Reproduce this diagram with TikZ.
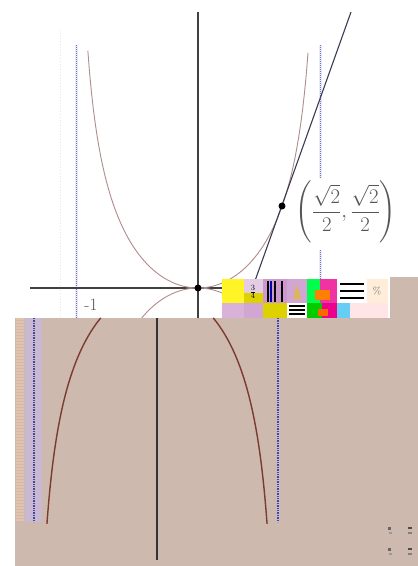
\documentclass[tikz,border=0pt]{standalone}
\usepackage{amsmath}
\definecolor{tanbg}{HTML}{CDB9AE}
\definecolor{curvelight}{HTML}{B08C8C}
\definecolor{curvedark}{HTML}{7B3B2F}
\definecolor{bluel}{HTML}{7474C4}
\definecolor{blued}{HTML}{45459A}
\definecolor{axisc}{HTML}{404040}
\definecolor{labc}{HTML}{555555}
\definecolor{lavstripe}{HTML}{C8B8D2}
\definecolor{beigestripe}{HTML}{E2C2A8}
\tikzset{
  axisline/.style={draw=axisc,line width=1.1pt},
  curvetop/.style={draw=curvelight,line width=0.9pt},
  curvebot/.style={draw=curvedark,line width=1.4pt},
  asymtop/.style={draw=bluel,line width=1pt,densely dotted},
  asymhalo/.style={draw=bluel!15,line width=3pt},
  asymbot/.style={draw=blued,line width=1.4pt,densely dotted},
  dotpt/.style={circle,fill=black,inner sep=0pt,minimum size=7pt},
  tangentl/.style={draw=axisc!90!blue,line width=1.1pt},
}
% f(u) = u^2/sqrt(1-u^2), x unit 122, y unit 125
\newcommand{\fx}[1]{(#1)*(#1)/sqrt(1-(#1)*(#1))}
\begin{document}
\begin{tikzpicture}[x=1pt,y=-1pt]
\useasboundingbox (0,0) rectangle (418,566);
\fill[white] (0,0) rectangle (418,566);
% faint grid remnants
\draw[yellow!40!gray!30,line width=0.8pt,dotted] (60,30) -- (60,318);
% tan lower panel
\fill[tanbg] (15,318) rectangle (418,566);
\fill[tanbg] (390,277) rectangle (418,318);
\fill[lavstripe] (25,318) rectangle (42,522);
\draw[beigestripe,line width=8pt,dash pattern=on 1.5pt off 1.5pt] (20,318) -- (20,522);
% top panel asymptotes
\draw[asymhalo] (76,45) -- (76,318);
\draw[asymtop] (76,45) -- (76,318);
\draw[asymhalo] (320,45) -- (320,178) (320,250) -- (320,280);
\draw[asymtop] (320,45) -- (320,178) (320,250) -- (320,280);
% top axes
\draw[axisline] (198,12) -- (198,318);
\draw[axisline] (30,288) -- (250,288);
% top curves
\draw[curvetop] plot[domain=-0.903:0.903,samples=120] ({198+122*\x},{288-125*\fx{\x}});
\draw[curvetop] plot[domain=-0.461:0.461,samples=50] ({198+122*\x},{288+125*\fx{\x}});
% tangent line
\coordinate (tA) at (251,292);
\coordinate (tB) at (351,12);
\draw[tangentl] (tA) -- (tB);
% points
\node[dotpt] (O) at (198,288) {};
\node[dotpt] (P) at (282,206) {};
\node[text=labc,font=\fontsize{20}{24}\selectfont,inner sep=0pt] (Plab) at (346,212)
  {$\left(\dfrac{\sqrt{2}}{2},\dfrac{\sqrt{2}}{2}\right)$};
\node[text=labc,font=\fontsize{17}{19}\selectfont,inner sep=0pt] (m1) at (91,305) {$\text{-}1$};
% garbled strip
\fill[yellow!85!white] (222,279) rectangle (244,303);
\fill[violet!30] (222,303) rectangle (244,318);
\fill[violet!20] (244,279) rectangle (263,293);
\fill[yellow!70!olive] (244,293) rectangle (263,303);
\fill[violet!35] (244,303) rectangle (263,318);
\node[text=black,font=\fontsize{11}{12}\selectfont\bfseries,inner sep=0pt] (g1) at (253,292) {$\frac{3}{4}$};
\fill[violet!40] (263,279) rectangle (287,303);
\draw[black,line width=2pt] (268,281) -- (268,302) (275,281) -- (275,302) (282,281) -- (282,302);
\draw[blue!70!black,line width=1.5pt] (271,281) -- (271,302);
\fill[yellow!70!olive] (263,303) rectangle (287,318);
\fill[violet!35] (287,279) rectangle (307,303);
\fill[olive!50!orange!60] (293,299) -- (297,284) -- (301,299) -- cycle;
\fill[white] (287,303) rectangle (307,318);
\draw[black,line width=1.5pt] (289,306) -- (305,306) (289,310) -- (305,310) (289,314) -- (305,314);
\fill[green!70!cyan] (307,279) rectangle (320,303);
\fill[magenta!80] (320,279) rectangle (337,303);
\fill[orange] (315,290) rectangle (330,300);
\fill[green!80!black] (307,303) rectangle (322,318);
\fill[magenta] (322,303) rectangle (337,318);
\fill[orange!80!red] (318,309) rectangle (328,316);
\fill[cyan!60] (337,303) rectangle (350,318);
\fill[white] (337,279) rectangle (367,303);
\draw[black,line width=2pt] (340,284) -- (364,284) (340,291) -- (364,291) (340,298) -- (364,298);
\fill[pink!40!white] (350,303) rectangle (388,318);
\fill[orange!15!white] (367,279) rectangle (388,303);
\node[text=black!60,font=\fontsize{10}{11}\selectfont,inner sep=0pt] (g2) at (377,291) {$\%$};
% bottom panel
\draw[asymbot] (34,318) -- (34,522);
\draw[asymhalo,draw=lavstripe] (278,318) -- (278,522);
\draw[asymbot] (278,318) -- (278,522);
\draw[axisline,draw=black!80] (157,318) -- (157,560);
\draw[curvebot] plot[domain=0.461:0.903,samples=60] ({157+122*\x},{288+125*\fx{\x}});
\draw[curvebot] plot[domain=0.461:0.903,samples=60] ({157-122*\x},{288+125*\fx{\x}});
% small marks bottom right
\foreach \yy in {527,548}{
  \fill[black!60] (388,\yy) rectangle (391,\yy+3);
  \fill[black!40] (389,\yy+5) rectangle (392,\yy+7);
  \fill[black!70] (408,\yy) rectangle (412,\yy+2);
  \fill[black!50] (408,\yy+5) rectangle (412,\yy+7);
}
\end{tikzpicture}
\end{document}
